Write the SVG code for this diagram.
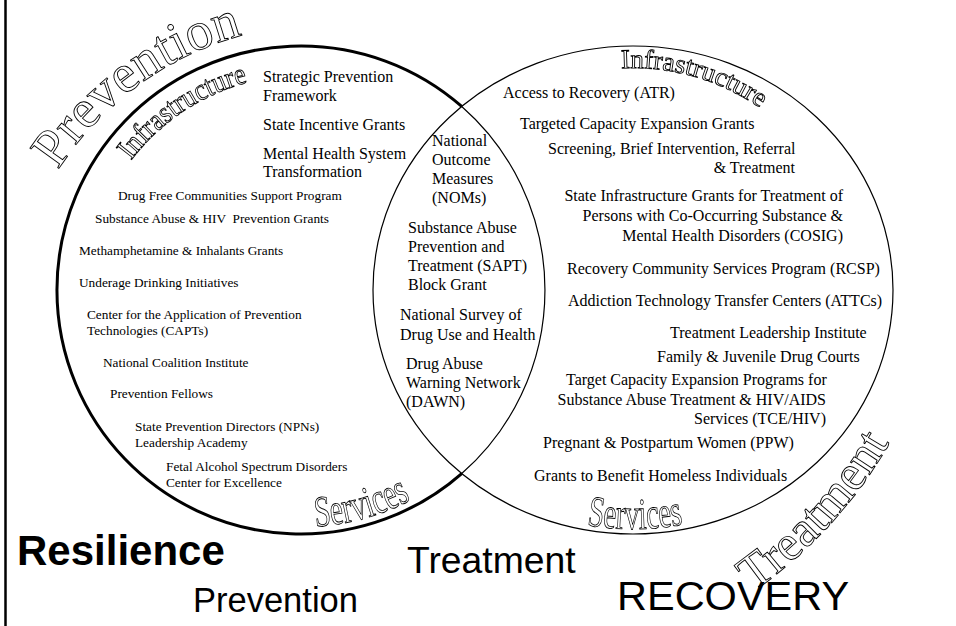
<svg xmlns="http://www.w3.org/2000/svg" width="956" height="626" viewBox="0 0 956 626">
  <style>
    .t16{font-family:"Liberation Serif","Times New Roman",serif;font-size:16px;fill:#000}
    .t13{font-family:"Liberation Serif","Times New Roman",serif;font-size:13.3px;fill:#000}
    .ol{font-family:"Liberation Serif","Times New Roman",serif;fill:#fff;stroke:#000;stroke-width:0.9px}
    .sans{font-family:"Liberation Sans",Arial,sans-serif;fill:#000}
    .thick{fill:none;stroke:#000;stroke-width:3}
    .thin{fill:none;stroke:#000;stroke-width:1.2}
  </style>
  <defs>
    <!-- grey-only rendering for the hollow lettering -->
    <filter id="mono" filterUnits="userSpaceOnUse" x="0" y="0" width="956" height="626">
      <feColorMatrix type="saturate" values="0"/>
    </filter>
    <!-- baselines for the outlined, curved headings -->
    <path id="pPrev" d="M58,170 A320,320 0 0 1 300,25"/>
    <path id="pInfL" d="M131,160.6 A215,215 0 0 1 338.3,78.3"/>
    <path id="pInfR" d="M621.4,68.3 A222,222 0 0 1 825.3,179"/>
    <path id="pSvcL" d="M315.5,526.6 A237,237 0 0 0 453.3,471.6"/>
    <path id="pSvcR" d="M560,519 A255,239 0 0 0 710,518"/>
    <path id="pTreat" d="M753,592 A470,470 0 0 0 937,328.6"/>
  </defs>

  <rect x="0" y="0" width="956" height="626" fill="#fff"/>

  <!-- frame line on the left edge -->
  <line id="left-border" x1="5.5" y1="0" x2="5.5" y2="626" stroke="#000" stroke-width="2.5"/>

  <!-- the two overlapping circles -->
  <g id="outlines">
    <path class="thick" d="M462,106.7 A244,244 0 1 0 462,473.3"/>
    <path class="thin" d="M462,106.7 A244,244 0 0 1 462,473.3"/>
    <ellipse class="thin" cx="633" cy="290" rx="260" ry="244"/>
  </g>

  <!-- Prevention circle -->
  <g id="prevention">
    <g filter="url(#mono)">
      <text class="ol" font-size="54"><textPath href="#pPrev">Prevention</textPath></text>
      <text class="ol" font-size="30"><textPath href="#pInfL" textLength="143" lengthAdjust="spacingAndGlyphs">Infrastructure</textPath></text>
      <text class="ol" font-size="44"><textPath href="#pSvcL" textLength="100" lengthAdjust="spacingAndGlyphs">Services</textPath></text>
    </g>

    <text class="t16" x="263" y="82">Strategic Prevention</text>
    <text class="t16" x="263" y="101">Framework</text>
    <text class="t16" x="263" y="129.5">State Incentive Grants</text>
    <text class="t16" x="263" y="158.5">Mental Health System</text>
    <text class="t16" x="263" y="177">Transformation</text>

    <text class="t13" x="118" y="200">Drug Free Communities Support Program</text>
    <text class="t13" x="95" y="223" xml:space="preserve">Substance Abuse &amp; HIV  Prevention Grants</text>
    <text class="t13" x="79" y="255">Methamphetamine &amp; Inhalants Grants</text>
    <text class="t13" x="79" y="287">Underage Drinking Initiatives</text>
    <text class="t13" x="87" y="319">Center for the Application of Prevention</text>
    <text class="t13" x="87" y="335">Technologies (CAPTs)</text>
    <text class="t13" x="103" y="367">National Coalition Institute</text>
    <text class="t13" x="110" y="398">Prevention Fellows</text>
    <text class="t13" x="135" y="431">State Prevention Directors (NPNs)</text>
    <text class="t13" x="135" y="447">Leadership Academy</text>
    <text class="t13" x="166" y="471">Fetal Alcohol Spectrum Disorders</text>
    <text class="t13" x="166" y="487">Center for Excellence</text>
  </g>

  <!-- shared overlap -->
  <g id="overlap">
    <text class="t16" x="432" y="146">National</text>
    <text class="t16" x="432" y="165">Outcome</text>
    <text class="t16" x="432" y="184">Measures</text>
    <text class="t16" x="432" y="203">(NOMs)</text>
    <text class="t16" x="408" y="233">Substance Abuse</text>
    <text class="t16" x="408" y="252">Prevention and</text>
    <text class="t16" x="408" y="271">Treatment (SAPT)</text>
    <text class="t16" x="408" y="290">Block Grant</text>
    <text class="t16" x="400" y="320">National Survey of</text>
    <text class="t16" x="400" y="340">Drug Use and Health</text>
    <text class="t16" x="406" y="369">Drug Abuse</text>
    <text class="t16" x="406" y="388">Warning Network</text>
    <text class="t16" x="406" y="407">(DAWN)</text>
  </g>

  <!-- Treatment circle -->
  <g id="treatment">
    <g filter="url(#mono)">
      <text class="ol" font-size="27"><textPath href="#pInfR">Infrastructure</textPath></text>
      <text class="ol" font-size="44"><textPath href="#pSvcR" startOffset="50%" text-anchor="middle" textLength="97" lengthAdjust="spacingAndGlyphs">Services</textPath></text>
      <text class="ol" font-size="50"><textPath href="#pTreat">Treatment</textPath></text>
    </g>

    <text class="t16" x="503" y="98">Access to Recovery (ATR)</text>
    <text class="t16" x="520" y="129">Targeted Capacity Expansion Grants</text>
    <text class="t16" x="548" y="154">Screening, Brief Intervention, Referral</text>
    <text class="t16" x="795" y="173" text-anchor="end">&amp; Treatment</text>
    <text class="t16" x="843" y="201" text-anchor="end">State Infrastructure Grants for Treatment of</text>
    <text class="t16" x="843" y="221" text-anchor="end">Persons with Co-Occurring Substance &amp;</text>
    <text class="t16" x="843" y="241" text-anchor="end">Mental Health Disorders (COSIG)</text>
    <text class="t16" x="567" y="274">Recovery Community Services Program (RCSP)</text>
    <text class="t16" x="568" y="306">Addiction Technology Transfer Centers (ATTCs)</text>
    <text class="t16" x="670" y="338">Treatment Leadership Institute</text>
    <text class="t16" x="657" y="362">Family &amp; Juvenile Drug Courts</text>
    <text class="t16" x="566" y="385">Target Capacity Expansion Programs for</text>
    <text class="t16" x="826" y="405" text-anchor="end">Substance Abuse Treatment &amp; HIV/AIDS</text>
    <text class="t16" x="826" y="424" text-anchor="end">Services (TCE/HIV)</text>
    <text class="t16" x="543" y="448">Pregnant &amp; Postpartum Women (PPW)</text>
    <text class="t16" x="534" y="481">Grants to Benefit Homeless Individuals</text>
  </g>

  <!-- captions under the circles -->
  <g id="captions">
    <text class="sans" x="17" y="565" font-size="42" font-weight="bold">Resilience</text>
    <text class="sans" x="193" y="612" font-size="34.5">Prevention</text>
    <text class="sans" x="407" y="573" font-size="37.3">Treatment</text>
    <text class="sans" x="617" y="610" font-size="41.5">RECOVERY</text>
  </g>
</svg>
